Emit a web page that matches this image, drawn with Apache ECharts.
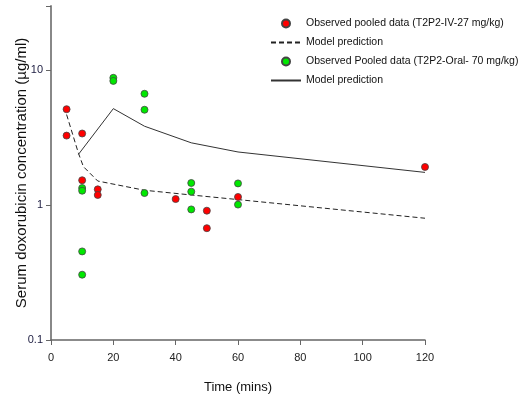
<!DOCTYPE html>
<html>
<head>
<meta charset="utf-8">
<script src="https://cdn.jsdelivr.net/npm/echarts@6/dist/echarts.min.js"></script>
<style>html,body{margin:0;padding:0;background:#fff}#c{width:525px;height:403px}</style>
</head>
<body>
<div id="c"></div>
<script>
// Observed IV data (T2P2-IV-27 mg/kg): [time, concentration]
var ivTimes = [5, 5, 10, 10, 15, 15, 40, 50, 50, 60, 120];
var ivValues = [5.15, 3.28, 3.4, 1.53, 1.31, 1.19, 1.11, 0.91, 0.675, 1.15, 1.92];
// Observed oral data (T2P2-Oral-70 mg/kg)
var oralTimes = [10, 10, 10, 10, 20, 20, 30, 30, 30, 45, 45, 45, 60, 60];
var oralValues = [1.34, 1.28, 0.454, 0.305, 8.8, 8.35, 6.7, 5.1, 1.23, 1.46, 1.26, 0.93, 1.45, 1.01];
// Model predictions
var ivModelTimes = [5, 8.8, 10.4, 15, 30, 45, 60, 120];
var ivModelValues = [4.7, 2.43, 1.93, 1.51, 1.29, 1.19, 1.1, 0.8];
var oralModelTimes = [8.8, 20, 30, 45, 60, 120];
var oralModelValues = [2.38, 5.2, 3.85, 2.9, 2.48, 1.75];
var xTicks = [0, 20, 40, 60, 80, 100, 120];
var yTicks = [0.1, 1, 10];

function pairs(t, v) { return t.map(function (x, i) { return [x, v[i]]; }); }

var FONT = '"Liberation Sans", Arial, sans-serif';
var chart = echarts.init(document.getElementById('c'), null, { renderer: 'canvas' });
chart.setOption({
  animation: false,
  backgroundColor: '#ffffff',
  grid: { left: 51, right: 100, top: 6, bottom: 63, containLabel: false, outerBoundsMode: 'none' },
  legend: {
    orient: 'vertical', left: 270, top: 18, itemGap: 8, padding: 0,
    itemWidth: 30, itemHeight: 8,
    textStyle: { fontFamily: FONT, fontSize: 10.5, color: '#111' },
    data: [
      { name: 'Observed pooled data (T2P2-IV-27 mg/kg)' },
      { name: 'Model prediction (IV)', itemStyle: { opacity: 0 } },
      { name: 'Observed Pooled data (T2P2-Oral- 70 mg/kg)' },
      { name: 'Model prediction (Oral)', itemStyle: { opacity: 0 } }
    ],
    formatter: function (n) { return n.indexOf('Model prediction') === 0 ? 'Model prediction' : n; }
  },
  xAxis: {
    type: 'value', min: xTicks[0], max: xTicks[xTicks.length - 1], interval: 20,
    name: 'Time (mins)', nameLocation: 'middle', nameGap: 41, nameMoveOverlap: false,
    nameTextStyle: { fontFamily: FONT, fontSize: 13, color: '#111' },
    axisLine: { lineStyle: { color: '#666', width: 1.5 } },
    axisTick: { length: 5, lineStyle: { color: '#666' } },
    axisLabel: { margin: 12, fontFamily: FONT, fontSize: 11, color: '#222' },
    splitLine: { show: false }
  },
  yAxis: {
    type: 'log', logBase: 10, min: yTicks[0], max: 30,
    name: 'Serum doxorubicin concentration (\u00b5g/ml)', nameLocation: 'middle', nameGap: 22, nameMoveOverlap: false,
    nameTextStyle: { fontFamily: FONT, fontSize: 15, color: '#111' },
    axisLine: { show: true, lineStyle: { color: '#888', width: 2 } },
    axisTick: { show: true, length: 5, lineStyle: { color: '#666' } },
    axisLabel: { margin: 8, fontFamily: FONT, fontSize: 11, color: '#1c1c40',
      formatter: function (v) { return yTicks.some(function (t) { return Math.abs(t - v) < 1e-9; }) ? String(+(+v).toPrecision(3)) : ''; } },
    splitLine: { show: false }
  },
  series: [
    { name: 'Model prediction (IV)', type: 'line', data: pairs(ivModelTimes, ivModelValues),
      symbol: 'none', lineStyle: { color: '#222', width: 1, type: [5, 3] }, itemStyle: { color: '#222' }, z: 2 },
    { name: 'Model prediction (Oral)', type: 'line', data: pairs(oralModelTimes, oralModelValues),
      symbol: 'none', lineStyle: { color: '#333', width: 1 }, itemStyle: { color: '#333' }, z: 2 },
    { name: 'Observed pooled data (T2P2-IV-27 mg/kg)', type: 'scatter', data: pairs(ivTimes, ivValues),
      symbol: 'circle', symbolSize: 7, itemStyle: { color: '#ff0000', borderColor: '#444', borderWidth: 0.8, opacity: 1 }, z: 3 },
    { name: 'Observed Pooled data (T2P2-Oral- 70 mg/kg)', type: 'scatter', data: pairs(oralTimes, oralValues),
      symbol: 'circle', symbolSize: 7, itemStyle: { color: '#00e800', borderColor: '#444', borderWidth: 0.8, opacity: 1 }, z: 3 }
  ]
});
</script>
</body>
</html>
